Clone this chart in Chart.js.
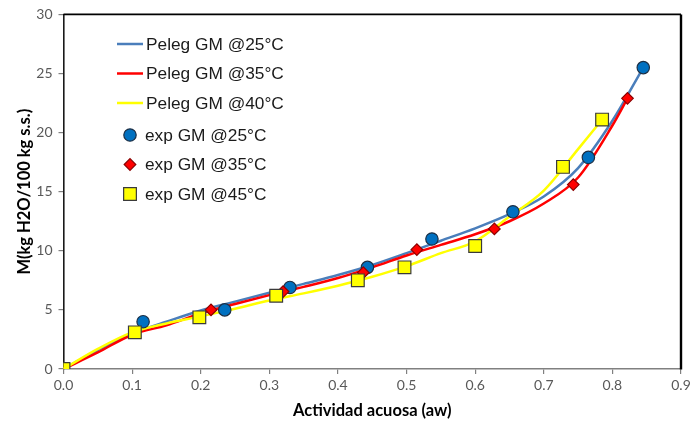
<!DOCTYPE html>
<html><head><meta charset="utf-8">
<script src="https://cdn.jsdelivr.net/npm/chart.js@4/dist/chart.umd.min.js"></script>
<style>html,body{margin:0;padding:0;background:#fff}</style>
</head><body>
<canvas id="c" width="694" height="424"></canvas>
<script>
// ---- data ----
const xTicks = [0, 0.1, 0.2, 0.3, 0.4, 0.5, 0.6, 0.7, 0.8, 0.9];
const yTicks = [0, 5, 10, 15, 20, 25, 30];

// Peleg fitted curves
const awFit25 = [0, 0.05, 0.1, 0.15, 0.2, 0.25, 0.3, 0.35, 0.4, 0.45, 0.5, 0.55, 0.6, 0.65, 0.7, 0.75, 0.8, 0.845];
const mFit25  = [0, 1.6, 3.0, 4.0, 4.95, 5.7, 6.45, 7.2, 7.95, 8.8, 9.8, 10.85, 11.9, 13.1, 14.6, 17.0, 21.0, 25.5];
const awFit35 = [0, 0.05, 0.1, 0.15, 0.2, 0.25, 0.3, 0.35, 0.4, 0.45, 0.5, 0.55, 0.6, 0.65, 0.7, 0.75, 0.8, 0.822];
const mFit35  = [0, 1.4, 2.9, 3.7, 4.7, 5.5, 6.25, 6.95, 7.7, 8.6, 9.6, 10.5, 11.4, 12.5, 14.0, 16.2, 20.6, 22.9];
const awFit40 = [0, 0.05, 0.1, 0.15, 0.2, 0.25, 0.3, 0.35, 0.4, 0.45, 0.5, 0.55, 0.6, 0.65, 0.7, 0.75, 0.785];
const mFit40  = [0, 1.7, 3.1, 3.85, 4.45, 5.1, 5.8, 6.4, 7.05, 7.8, 8.7, 9.8, 10.8, 12.9, 15.1, 18.6, 21.1];

// experimental points
const awExp25 = [0.116, 0.235, 0.33, 0.443, 0.537, 0.655, 0.765, 0.845];
const mExp25  = [4.0, 5.0, 6.9, 8.6, 11.0, 13.3, 17.9, 25.5];
const awExp35 = [0.215, 0.32, 0.437, 0.515, 0.628, 0.743, 0.822];
const mExp35  = [5.0, 6.55, 8.15, 10.1, 11.85, 15.6, 22.9];
const awExp45 = [0, 0.104, 0.198, 0.31, 0.429, 0.497, 0.6, 0.728, 0.785];
const mExp45  = [0, 3.1, 4.37, 6.2, 7.5, 8.6, 10.4, 17.1, 21.1];

const labels = ['Peleg GM @25°C', 'Peleg GM @35°C', 'Peleg GM @40°C', 'exp GM @25°C', 'exp GM @35°C', 'exp GM @45°C'];
const xTitle = 'Actividad acuosa (aw)';
const yTitle = 'M(kg H2O/100 kg s.s.)';

const pts = (xs, ys) => xs.map((x, i) => ({x: x, y: ys[i]}));

const lineDs = (lab, xs, ys, color, order) => ({
  label: lab, data: pts(xs, ys), showLine: true, borderColor: color, backgroundColor: color,
  borderWidth: 2.5, pointRadius: 0, cubicInterpolationMode: 'monotone', order: order, kind: 'line'
});
const markDs = (lab, xs, ys, fill, border, style, r, order) => ({
  label: lab, data: pts(xs, ys), showLine: false, pointStyle: style, pointRadius: r,
  backgroundColor: fill, borderColor: border, pointBorderWidth: 1.2, order: order, kind: 'mark'
});

const datasets = [
  lineDs(labels[0], awFit25, mFit25, '#4A7EBB', 5),
  lineDs(labels[1], awFit35, mFit35, '#FF0000', 4),
  lineDs(labels[2], awFit40, mFit40, '#FFFF00', 3),
  markDs(labels[3], awExp25, mExp25, '#0070C0', '#1c2f45', 'circle', 6.2, 2),
  markDs(labels[4], awExp35, mExp35, '#FF0000', '#8a0000', 'rectRot', 5.8, 1),
  markDs(labels[5], awExp45, mExp45, '#FFFF00', '#3a3a3a', 'rect', 9, 0)
];

const framePlugin = {
  id: 'frame',
  beforeDatasetsDraw(chart) {
    const {ctx, chartArea: a} = chart;
    ctx.save();
    ctx.strokeStyle = '#000';
    ctx.lineWidth = 1.6;
    ctx.beginPath();
    ctx.moveTo(a.left, a.top); ctx.lineTo(a.right, a.top);
    ctx.stroke();
    ctx.lineWidth = 2.4;
    ctx.beginPath();
    ctx.moveTo(a.right, a.top); ctx.lineTo(a.right, a.bottom + 0.5);
    ctx.stroke();
    ctx.restore();
  }
};

const legendPlugin = {
  id: 'customLegend',
  afterDatasetsDraw(chart) {
    const ctx = chart.ctx;
    ctx.save();
    ctx.font = '17.3px "Liberation Sans", Arial, sans-serif';
    ctx.textBaseline = 'middle';
    ctx.textAlign = 'left';
    const ds = chart.data.datasets;
    const rowsY = [44, 73.5, 103, 135, 164.5, 194];
    ds.forEach((d, i) => {
      const y = rowsY[i];
      if (d.kind === 'line') {
        ctx.strokeStyle = d.borderColor; ctx.lineWidth = 2.5;
        ctx.beginPath(); ctx.moveTo(117, y); ctx.lineTo(143, y); ctx.stroke();
        ctx.fillStyle = '#1a1a1a';
        ctx.fillText(d.label, 146, y + 1);
      } else {
        ctx.fillStyle = d.backgroundColor; ctx.strokeStyle = d.borderColor; ctx.lineWidth = 1.2;
        const cx = 130;
        ctx.beginPath();
        if (d.pointStyle === 'circle') {
          ctx.arc(cx, y, d.pointRadius, 0, Math.PI * 2);
        } else if (d.pointStyle === 'rectRot') {
          const r = d.pointRadius;
          ctx.moveTo(cx - r, y); ctx.lineTo(cx, y - r); ctx.lineTo(cx + r, y); ctx.lineTo(cx, y + r); ctx.closePath();
        } else {
          const s = d.pointRadius * Math.SQRT1_2;
          ctx.rect(cx - s, y - s, 2 * s, 2 * s);
        }
        ctx.fill(); ctx.stroke();
        ctx.fillStyle = '#1a1a1a';
        ctx.fillText(d.label, 145, y + 1);
      }
    });
    ctx.restore();
  }
};

const tickFont = {family: 'Lato, "Open Sans", sans-serif', size: 14};
const titleFont = {family: 'Lato, "Open Sans", sans-serif', size: 16.5, weight: 'bold'};

new Chart(document.getElementById('c'), {
  type: 'scatter',
  data: {datasets: datasets},
  options: {
    responsive: false,
    animation: false,
    events: [],
    layout: {padding: {left: 0, right: 13, top: 12, bottom: 0}},
    plugins: {legend: {display: false}, tooltip: {enabled: false}},
    scales: {
      x: {
        type: 'linear', min: xTicks[0], max: xTicks[xTicks.length - 1],
        afterBuildTicks: s => { s.ticks = xTicks.map(v => ({value: v})); },
        afterFit: s => { s.height = 55; },
        ticks: {font: tickFont, color: '#595959', padding: 3, callback: v => v.toFixed(1), maxRotation: 0, autoSkip: false},
        grid: {display: true, drawOnChartArea: false, drawTicks: true, tickLength: 5, color: '#808080', lineWidth: 1.2},
        border: {display: true, color: '#808080', width: 1.6},
        title: {display: true, text: xTitle, font: titleFont, color: '#000', padding: {top: 0, bottom: 3}}
      },
      y: {
        type: 'linear', min: yTicks[0], max: yTicks[yTicks.length - 1],
        afterBuildTicks: s => { s.ticks = yTicks.map(v => ({value: v})); },
        afterFit: s => { s.width = 63.5; },
        ticks: {font: tickFont, color: '#595959', padding: 6},
        grid: {display: true, drawOnChartArea: false, drawTicks: true, tickLength: 5, color: '#808080', lineWidth: 1.2},
        border: {display: true, color: '#1a1a1a', width: 1.6},
        title: {display: true, text: yTitle, font: titleFont, color: '#000', padding: {top: 15, bottom: 0}}
      }
    }
  },
  plugins: [framePlugin, legendPlugin]
});
</script>
</body></html>
